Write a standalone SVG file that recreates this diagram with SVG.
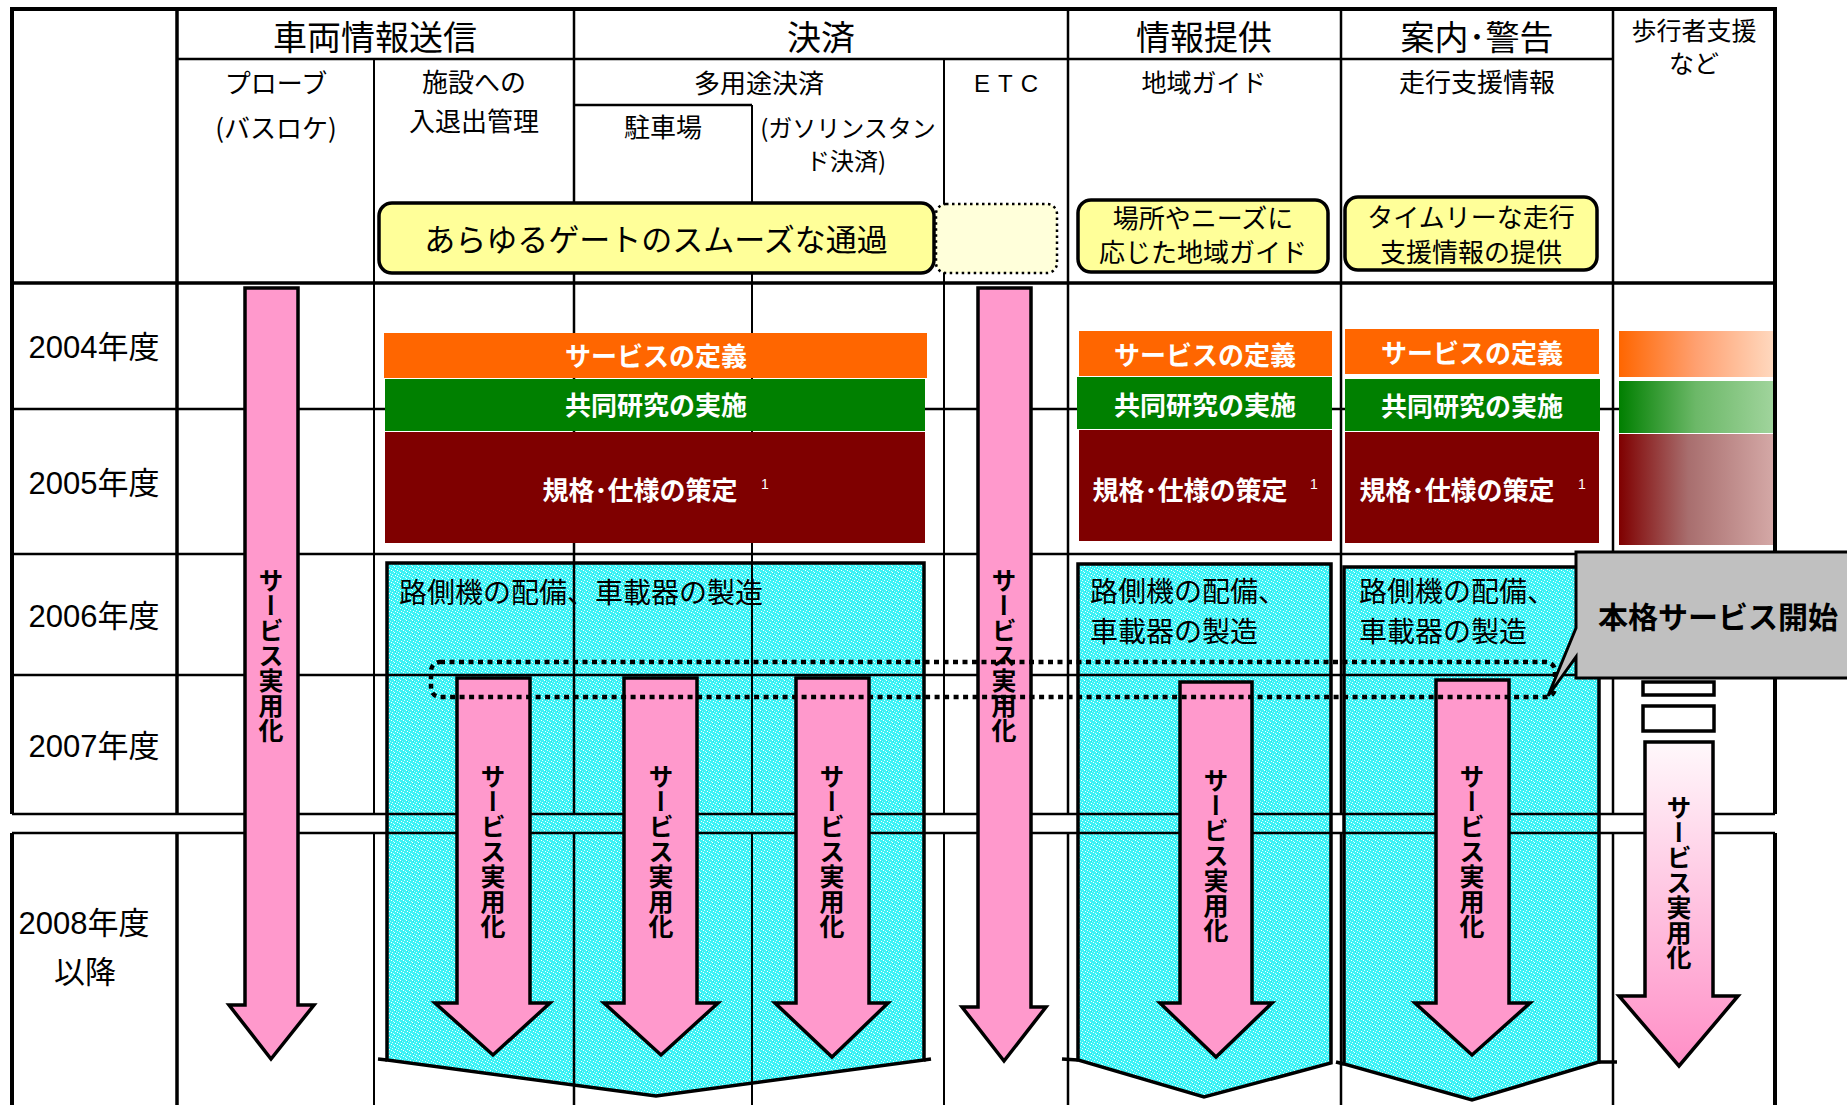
<svg xmlns="http://www.w3.org/2000/svg" width="1847" height="1105" viewBox="0 0 1847 1105">
<style>
text{font-family:"Noto Sans CJK JP","Liberation Sans",sans-serif;fill:#000}
.h1{font-size:34px;text-anchor:middle}
.h2{font-size:26px;text-anchor:middle}
.yr{font-family:"Liberation Sans","Noto Sans CJK JP",sans-serif;font-size:31px;text-anchor:middle}
.yt{font-size:31px;text-anchor:middle}
.ys{font-size:26px;text-anchor:middle}
.bt{font-size:26px;font-weight:bold;fill:#fff;text-anchor:middle}
.sup{font-family:"Liberation Sans",sans-serif;font-size:14px;fill:#fff}
.cy{font-size:28px}
.vt{writing-mode:vertical-rl;font-size:25px;font-weight:bold;text-anchor:middle}
.g{stroke:#000;fill:none}
.arr{fill:#FF99CC;stroke:#000;stroke-width:3.5;stroke-linejoin:miter}
.cbox{fill:url(#cyp);stroke:#000;stroke-width:3.5}
.yb{fill:#FFFF99;stroke:#000;stroke-width:3.5}
</style>
<defs>
<pattern id="cyp" width="6" height="6" patternUnits="userSpaceOnUse">
<rect width="6" height="6" fill="#3CF2F5"/>
<rect x="1" y="0" width="1" height="1" fill="#fff"/>
<rect x="4" y="2" width="1" height="1" fill="#fff"/>
<rect x="2" y="4" width="1" height="1" fill="#dfffff"/>
<rect x="5" y="5" width="1" height="1" fill="#fff"/>
<rect x="0" y="3" width="1" height="1" fill="#aff"/>
<rect x="3" y="1" width="1" height="1" fill="#cff"/>
<rect x="5" y="3" width="1" height="1" fill="#20e0e8"/>
</pattern>
<linearGradient id="gOr" x1="0" y1="0" x2="1" y2="0"><stop offset="0" stop-color="#FF6600"/><stop offset="0.5" stop-color="#FFA070"/><stop offset="1" stop-color="#FFD8BE"/></linearGradient>
<linearGradient id="gGr" x1="0" y1="0" x2="1" y2="0"><stop offset="0" stop-color="#007F00"/><stop offset="0.5" stop-color="#6CB868"/><stop offset="1" stop-color="#A0D49C"/></linearGradient>
<linearGradient id="gRd" x1="0" y1="0" x2="1" y2="0"><stop offset="0" stop-color="#7F0000"/><stop offset="0.45" stop-color="#A86E6E"/><stop offset="1" stop-color="#D4A8A6"/></linearGradient>
<linearGradient id="gPk" x1="0" y1="0" x2="0" y2="1"><stop offset="0" stop-color="#FFF8FB"/><stop offset="1" stop-color="#FF8EC6"/></linearGradient>
</defs>
<rect width="1847" height="1105" fill="#fff"/>

<g id="cyan-boxes">
<path class="cbox" d="M387,563 H924 V1060 L656,1096 L387,1060 Z"/>
<path d="M378,1059 L387,1060 M924,1060 L931,1059" class="g" stroke-width="3.5"/>
<path class="cbox" d="M1078,564 H1331 V1063 L1204,1097 L1078,1060 Z"/>
<path d="M1062,1059 L1078,1060" class="g" stroke-width="3.5"/>
<path class="cbox" d="M1344,567 H1599 V1062 L1472,1100 L1344,1064 Z"/>
<path d="M1336,1062 L1344,1064 M1599,1062 L1617,1062" class="g" stroke-width="3.5"/>
</g>

<g id="grid">
<path class="g" stroke-width="4" d="M10,9 H1777"/>
<path class="g" stroke-width="2.5" d="M177,59 H1613 M574,105 H752"/>
<path class="g" stroke-width="3.5" d="M12,283 H1775"/>
<path class="g" stroke-width="2.5" d="M12,409 H1775 M12,554 H1775 M12,675 H1775 M12,814 H1775 M12,833 H1775"/>
<path class="g" stroke-width="4" d="M12,9 V814 M12,833 V1105 M1775,9 V814 M1775,833 V1105"/>
<path class="g" stroke-width="3.5" d="M177,9 V814 M177,833 V1105"/>
<path class="g" stroke-width="2" d="M374,59 V814 M374,833 V1105 M752,105 V814 M752,833 V1105 M944,59 V814 M944,833 V1105"/>
<path class="g" stroke-width="2.5" d="M574,9 V814 M574,833 V1105 M1068,9 V814 M1068,833 V1105 M1341,9 V814 M1341,833 V1105 M1613,9 V814 M1613,833 V1105"/>
</g>

<g id="headers">
<text class="h1" x="375" y="50">車両情報送信</text>
<text class="h1" x="821" y="50">決済</text>
<text class="h1" x="1204" y="50">情報提供</text>
<text class="h1" x="1477" y="50">案内･警告</text>
<text class="h2" x="1694" y="40" style="font-size:25px">歩行者支援</text>
<text class="h2" x="1694" y="73" style="font-size:25px">など</text>
<text class="h2" x="276" y="93">プローブ</text>
<text class="h2" x="276" y="138">(バスロケ)</text>
<text class="h2" x="474" y="92">施設への</text>
<text class="h2" x="474" y="131">入退出管理</text>
<text class="h2" x="759" y="93">多用途決済</text>
<text class="h2" x="663" y="137">駐車場</text>
<text class="h2" x="848" y="137" style="font-size:24px">(ガソリンスタン</text>
<text class="h2" x="846" y="170" style="font-size:24px">ド決済)</text>
<text x="1010" y="92" style="font-family:'Liberation Sans',sans-serif;font-size:24px;text-anchor:middle;letter-spacing:8px">ETC</text>
<text class="h2" x="1204" y="92" style="font-size:25px">地域ガイド</text>
<text class="h2" x="1477" y="92">走行支援情報</text>
</g>

<g id="years">
<text class="yr" x="94" y="358">2004年度</text>
<text class="yr" x="94" y="494">2005年度</text>
<text class="yr" x="94" y="627">2006年度</text>
<text class="yr" x="94" y="757">2007年度</text>
<text class="yr" x="84" y="934">2008年度</text>
<text class="yr" x="85" y="983">以降</text>
</g>

<g id="goal-gate">
<rect class="yb" x="379" y="203" width="555" height="70" rx="13"/>
<text class="yt" x="656" y="251">あらゆるゲートのスムーズな通過</text>
</g>
<g id="goal-etc">
<rect x="936" y="204" width="121" height="69" rx="10" fill="#FFFFDA" stroke="#000" stroke-width="2.5" stroke-dasharray="2.5 3.5"/>
</g>
<g id="goal-guide">
<rect class="yb" x="1078" y="200" width="250" height="72" rx="13"/>
<text class="ys" x="1203" y="228">場所やニーズに</text>
<text class="ys" x="1203" y="262">応じた地域ガイド</text>
</g>
<g id="goal-drive">
<rect class="yb" x="1345" y="197" width="252" height="73" rx="13"/>
<text class="ys" x="1471" y="227">タイムリーな走行</text>
<text class="ys" x="1471" y="262">支援情報の提供</text>
</g>

<g id="bars-left">
<rect x="384" y="333" width="543" height="45" fill="#FF6600"/>
<text class="bt" x="656" y="366">サービスの定義</text>
<rect x="385" y="379" width="540" height="52" fill="#008000"/>
<text class="bt" x="656" y="415">共同研究の実施</text>
<rect x="385" y="432" width="540" height="111" fill="#7F0000"/>
<text class="bt" x="640" y="500">規格･仕様の策定</text>
<text class="sup" x="761" y="489">1</text>
</g>
<g id="bars-guide">
<rect x="1079" y="331" width="253" height="45" fill="#FF6600"/>
<text class="bt" x="1205" y="365">サービスの定義</text>
<rect x="1077" y="377" width="255" height="52" fill="#008000"/>
<text class="bt" x="1205" y="415">共同研究の実施</text>
<rect x="1079" y="430" width="253" height="111" fill="#7F0000"/>
<text class="bt" x="1190" y="500">規格･仕様の策定</text>
<text class="sup" x="1310" y="489">1</text>
</g>
<g id="bars-drive">
<rect x="1345" y="329" width="254" height="45" fill="#FF6600"/>
<text class="bt" x="1472" y="363">サービスの定義</text>
<rect x="1345" y="379" width="255" height="52" fill="#008000"/>
<text class="bt" x="1472" y="416">共同研究の実施</text>
<rect x="1345" y="432" width="254" height="111" fill="#7F0000"/>
<text class="bt" x="1457" y="500">規格･仕様の策定</text>
<text class="sup" x="1578" y="489">1</text>
</g>
<g id="bars-ped">
<rect x="1619" y="331" width="154" height="46" fill="url(#gOr)"/>
<rect x="1619" y="381" width="154" height="52" fill="url(#gGr)"/>
<rect x="1619" y="434" width="154" height="111" fill="url(#gRd)"/>
</g>

<g id="deploy-text">
<text class="cy" x="399" y="603">路側機の配備、車載器の製造</text>
<text class="cy" x="1090" y="602">路側機の配備、</text>
<text class="cy" x="1090" y="642">車載器の製造</text>
<text class="cy" x="1359" y="602">路側機の配備、</text>
<text class="cy" x="1359" y="642">車載器の製造</text>
</g>

<g id="arrow-probe">
<polygon class="arr" points="245,288 298,288 298,1005 314,1005 271,1059 229,1005 245,1005"/>
<text class="vt" x="271" y="655">サービス実用化</text>
</g>
<g id="arrow-etc">
<polygon class="arr" points="978,288 1031,288 1031,1007 1046,1007 1004,1061 962,1007 978,1007"/>
<text class="vt" x="1004" y="655">サービス実用化</text>
</g>
<g id="arrow-gate">
<polygon class="arr" points="457,678 530,678 530,1003 550,1003 493,1055 435,1003 457,1003"/>
<text class="vt" x="493" y="851">サービス実用化</text>
</g>
<g id="arrow-parking">
<polygon class="arr" points="624,678 697,678 697,1003 718,1003 661,1055 604,1003 624,1003"/>
<text class="vt" x="661" y="851">サービス実用化</text>
</g>
<g id="arrow-gas">
<polygon class="arr" points="796,678 869,678 869,1003 888,1003 832,1057 775,1003 796,1003"/>
<text class="vt" x="832" y="851">サービス実用化</text>
</g>
<g id="arrow-guide">
<polygon class="arr" points="1180,682 1252,682 1252,1003 1272,1003 1216,1057 1160,1003 1180,1003"/>
<text class="vt" x="1216" y="855">サービス実用化</text>
</g>
<g id="arrow-drive">
<polygon class="arr" points="1436,680 1509,680 1509,1003 1530,1003 1472,1055 1415,1003 1436,1003"/>
<text class="vt" x="1472" y="851">サービス実用化</text>
</g>
<g id="arrow-ped">
<rect x="1643" y="682" width="71" height="13" fill="#fff" stroke="#000" stroke-width="3.5"/>
<rect x="1643" y="706" width="71" height="25" fill="#fff" stroke="#000" stroke-width="3.5"/>
<polygon points="1645,742 1713,742 1713,996 1738,996 1679,1066 1619,996 1645,996" fill="url(#gPk)" stroke="#000" stroke-width="3.5"/>
<text class="vt" x="1679" y="882">サービス実用化</text>
</g>

<g id="connectors">
<rect x="431" y="662" width="1124" height="35" rx="9" fill="none" stroke="#000" stroke-width="4.5" stroke-dasharray="5 4.5"/>
</g>

<g id="callout">
<path d="M1576,552 H1850 V678 H1576 V657 L1548,696 L1576,628 Z" fill="#C0C0C0" stroke="#000" stroke-width="3"/>
<text x="1598" y="628" style="font-size:30px;font-weight:bold">本格サービス開始</text>
</g>
</svg>
